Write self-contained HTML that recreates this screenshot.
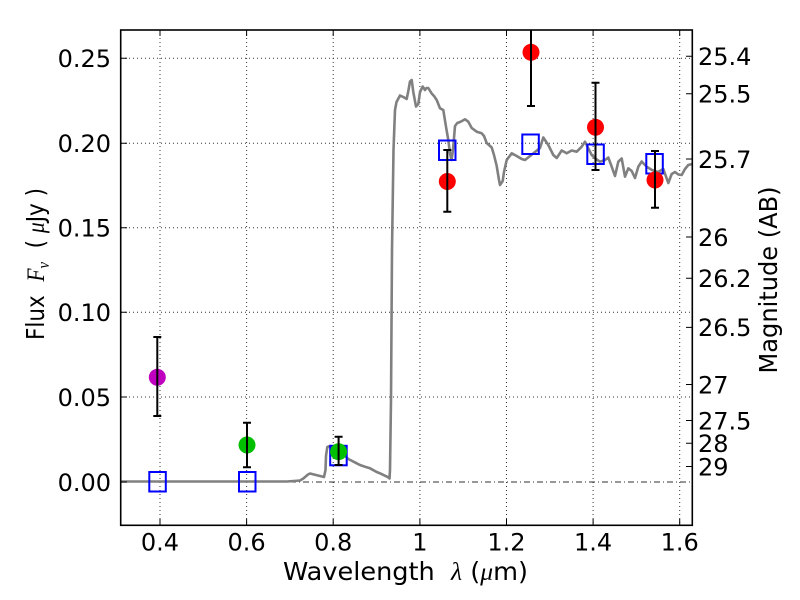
<!DOCTYPE html>
<html><head><meta charset="utf-8"><style>
html,body{margin:0;padding:0;background:#fff;}
svg{display:block;}
text{font-family:"DejaVu Sans","Liberation Sans",sans-serif;font-size:24px;fill:#000;}
.lab{font-size:25px;}
</style></head><body>
<svg width="800" height="600" viewBox="0 0 800 600" xmlns="http://www.w3.org/2000/svg">
<defs><clipPath id="pc"><rect x="120.7" y="30" width="571.6" height="495.3"/></clipPath></defs>
<rect width="800" height="600" fill="#fff"/>
<g stroke="#000" stroke-width="1" stroke-dasharray="1,3" fill="none" opacity="0.8">
<line x1="160" y1="30" x2="160" y2="525"/>
<line x1="246.6" y1="30" x2="246.6" y2="525"/>
<line x1="333.2" y1="30" x2="333.2" y2="525"/>
<line x1="419.9" y1="30" x2="419.9" y2="525"/>
<line x1="506.5" y1="30" x2="506.5" y2="525"/>
<line x1="593.1" y1="30" x2="593.1" y2="525"/>
<line x1="679.7" y1="30" x2="679.7" y2="525"/>
<line x1="121" y1="58.3" x2="692" y2="58.3"/>
<line x1="121" y1="143.3" x2="692" y2="143.3"/>
<line x1="121" y1="227.7" x2="692" y2="227.7"/>
<line x1="121" y1="312.3" x2="692" y2="312.3"/>
<line x1="121" y1="397" x2="692" y2="397"/>
</g>
<line x1="121" y1="482" x2="692" y2="482" stroke="#000" stroke-width="1" stroke-dasharray="6,3,1,3" opacity="0.8"/>
<g clip-path="url(#pc)">
<polyline fill="none" stroke="#808080" stroke-width="2.6" stroke-linejoin="round" points="120.7,481.5 287,481.5 300,480.5 303.3,478.5 308,474.5 310,473.5 316,475 324,477 325.5,470 326,456 327.3,447 330,446 335,449 345,456 348.3,459 356.7,463.3 360,465 366.7,467.3 370,468.3 376.7,472 380,473.3 388.3,477.3 389.5,478.5 390,470 391,400 392,250 393.5,150 395,110 396.5,102 400,95.5 403.3,97 406.7,99 408.5,90 410,81.5 411.7,80 413.3,92 416,106.5 418.3,104 420,92 422.7,86.5 425,90 426.5,88 428.3,88 431.7,93.5 434,96 436.7,100 440,108.3 443.3,110 446,126.7 448.3,140 450,153.3 451.5,160 453,150 455,126 457.3,123 460,122 462,121 465,119.3 468.3,121.7 471.7,128 476.7,131.7 481.7,133.3 484,136 486.7,143 491.7,147.5 494,155 496.7,166 499,180 500,185 502.7,181 504,172 506.7,160 511.7,153.3 516.7,156 521.7,159 525,160 530,156 535,152 540,148 543.3,137.5 548.3,145 553.3,155 556.7,158 561.7,150.5 566.7,153.3 571.7,150.5 576.7,151.7 581.7,146.7 585,141.7 588.3,148.3 591.7,155 596,159 600,161.7 605,160 608.3,157.5 611.7,166.7 615,176 618.3,161.7 621.7,158.5 625,176.7 628.3,168.3 631.7,171 635,178 638.3,166.7 641.7,161.5 644,164 647,167 652,170 658,172 663.3,169 668.3,183 671.7,174 675,172 678.3,174.5 681.7,175 685,169 688.3,165 692.3,164"/>
<g fill="none" stroke="#0000ff" stroke-width="2">
<rect x="149.3" y="472" width="16.5" height="19.5"/>
<rect x="239" y="472" width="16.5" height="19.5"/>
<rect x="330.2" y="445.8" width="16.5" height="19.5"/>
<rect x="439" y="140.5" width="16.5" height="19.5"/>
<rect x="522.3" y="134.5" width="16.5" height="19.5"/>
<rect x="587.3" y="144.5" width="16.5" height="19.5"/>
<rect x="646.3" y="154" width="16.5" height="19.5"/>
</g>
<circle cx="157.3" cy="377.3" r="8.5" fill="#bf00bf"/>
<circle cx="247" cy="445" r="8.5" fill="#00c000"/>
<circle cx="338.6" cy="451.7" r="8.5" fill="#00c000"/>
<circle cx="447.3" cy="181.5" r="8.5" fill="#ff0000"/>
<circle cx="531" cy="52.3" r="8.5" fill="#ff0000"/>
<circle cx="595.5" cy="127.3" r="8.5" fill="#ff0000"/>
<circle cx="655" cy="180" r="8.5" fill="#ff0000"/>
<g stroke="#000" stroke-width="2" fill="none">
<path d="M157.3,337 V416 M153.3,337 H161.3 M153.3,416 H161.3"/>
<path d="M247,422.7 V467.3 M243,422.7 H251 M243,467.3 H251"/>
<path d="M338.6,436.7 V465 M334.6,436.7 H342.6 M334.6,465 H342.6"/>
<path d="M447.3,150 V211.7 M443.3,150 H451.3 M443.3,211.7 H451.3"/>
<path d="M531,20 V106 M527,106 H535"/>
<path d="M595.5,82.7 V170 M591.5,82.7 H599.5 M591.5,170 H599.5"/>
<path d="M655,151 V207.7 M651,151 H659 M651,207.7 H659"/>
</g>
</g>
<g stroke="#000" stroke-width="1">
<path d="M160,525 v-6 M246.6,525 v-6 M333.2,525 v-6 M419.9,525 v-6 M506.5,525 v-6 M593.1,525 v-6 M679.7,525 v-6"/>
<path d="M160,30 v6 M246.6,30 v6 M333.2,30 v6 M419.9,30 v6 M506.5,30 v6 M593.1,30 v6 M679.7,30 v6"/>
<path d="M121,58.3 h6 M121,143.3 h6 M121,227.7 h6 M121,312.3 h6 M121,397 h6 M121,482 h6"/>
<path d="M692,56.2 h-6 M692,93.7 h-6 M692,159 h-6 M692,237 h-6 M692,278.2 h-6 M692,327.4 h-6 M692,384.5 h-6 M692,420.5 h-6 M692,443.2 h-6 M692,466.5 h-6"/>
</g>
<rect x="120.7" y="30" width="571.6" height="495.3" fill="none" stroke="#000" stroke-width="1.6"/>
<g text-anchor="middle">
<text x="160" y="550.5">0.4</text>
<text x="246.6" y="550.5">0.6</text>
<text x="333.2" y="550.5">0.8</text>
<text x="419.9" y="550.5">1</text>
<text x="506.5" y="550.5">1.2</text>
<text x="593.1" y="550.5">1.4</text>
<text x="679.7" y="550.5">1.6</text>
</g>
<g text-anchor="end">
<text x="111" y="67.1">0.25</text>
<text x="111" y="152.1">0.20</text>
<text x="111" y="236.5">0.15</text>
<text x="111" y="321.1">0.10</text>
<text x="111" y="405.8">0.05</text>
<text x="111" y="490.8">0.00</text>
</g>
<g>
<text x="698" y="65">25.4</text>
<text x="698" y="102.5">25.5</text>
<text x="698" y="167.8">25.7</text>
<text x="698" y="245.8">26</text>
<text x="698" y="287">26.2</text>
<text x="698" y="336.2">26.5</text>
<text x="698" y="393.3">27</text>
<text x="698" y="429.3">27.5</text>
<text x="698" y="452">28</text>
<text x="698" y="475.3">29</text>
</g>
<text class="lab" x="283" y="580" xml:space="preserve" textLength="245" lengthAdjust="spacingAndGlyphs">Wavelength  <tspan font-family="'Liberation Serif',serif" font-style="italic">λ</tspan> (<tspan font-family="'Liberation Serif',serif" font-style="italic">μ</tspan>m)</text>
<text class="lab" transform="translate(44,340) rotate(-90)" xml:space="preserve" textLength="152" lengthAdjust="spacingAndGlyphs">Flux  <tspan font-family="'Liberation Serif',serif" font-style="italic">F</tspan><tspan font-family="'Liberation Serif',serif" font-style="italic" font-size="17" dy="5">ν</tspan><tspan dy="-5">  ( </tspan><tspan font-family="'Liberation Serif',serif" font-style="italic">μ</tspan>Jy )</text>
<text class="lab" transform="translate(777,373.5) rotate(-90)" textLength="187" lengthAdjust="spacingAndGlyphs">Magnitude (AB)</text>
</svg>
</body></html>
